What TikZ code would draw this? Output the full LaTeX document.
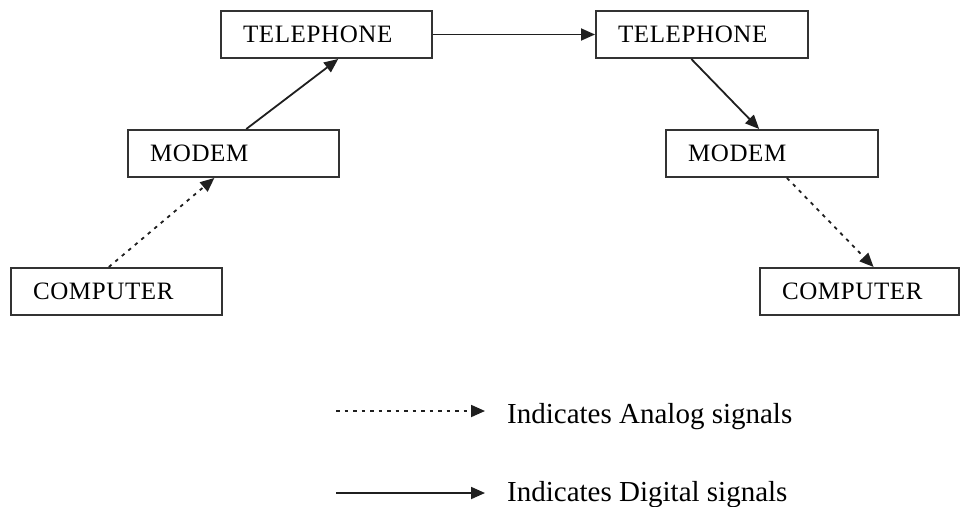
\documentclass[tikz,border=0pt]{standalone}
\usepackage{fontspec}
\setmainfont{Liberation Serif}
\newfontfamily\boxfont[LetterSpace=2.5]{Liberation Serif}
\usetikzlibrary{arrows.meta,calc}
\begin{document}
\begin{tikzpicture}[x=1pt,y=-1pt,
  box/.style={draw=black!80, line width=2pt, rectangle, minimum height=47pt,
    inner xsep=22pt, inner ysep=0pt, align=left,
    font=\boxfont\fontsize{25}{25}\selectfont, anchor=north west},
  sig/.style={line width=1.8pt, black!88, -{Triangle[length=14pt,width=12pt]}},
  analog/.style={sig, dash pattern=on 3.5pt off 5pt},
  lab/.style={font=\fontsize{29}{29}\selectfont, anchor=base west, inner sep=0pt}]
\useasboundingbox (0,0) rectangle (960,506);
\node[box, text width=167pt] (tel1) at (220,10) {TELEPHONE};
\node[box, text width=167pt] (mod1) at (127,129) {MODEM};
\node[box, text width=167pt] (comp1) at (10,267) {COMPUTER};
\node[box, text width=168pt] (tel2) at (595,10) {TELEPHONE};
\node[box, text width=168pt] (mod2) at (665,129) {MODEM};
\node[box, text width=155pt] (comp2) at (759,267) {COMPUTER};
\draw[analog] ($(comp1.north west)!0.464!(comp1.north east)$) -- ($(mod1.south west)!0.41!(mod1.south east)$);
\draw[sig] ($(mod1.north west)!0.56!(mod1.north east)$) -- ($(tel1.south west)!0.555!(tel1.south east)$);
\draw[sig] (tel1.east) -- (tel2.west);
\draw[sig] ($(tel2.south west)!0.45!(tel2.south east)$) -- ($(mod2.north west)!0.44!(mod2.north east)$);
\draw[analog] ($(mod2.south west)!0.57!(mod2.south east)$) -- ($(comp2.north west)!0.57!(comp2.north east)$);
\node[lab] (la) at (507,423) {Indicates Analog signals};
\node[lab] (ld) at (507,501) {Indicates Digital signals};
\coordinate (la0) at (336,411);
\coordinate (ld0) at (336,493);
\draw[analog, shorten >=22pt] (la0) -- (la0 -| la.west);
\draw[sig, shorten >=22pt] (ld0) -- (ld0 -| ld.west);
\end{tikzpicture}
\end{document}
